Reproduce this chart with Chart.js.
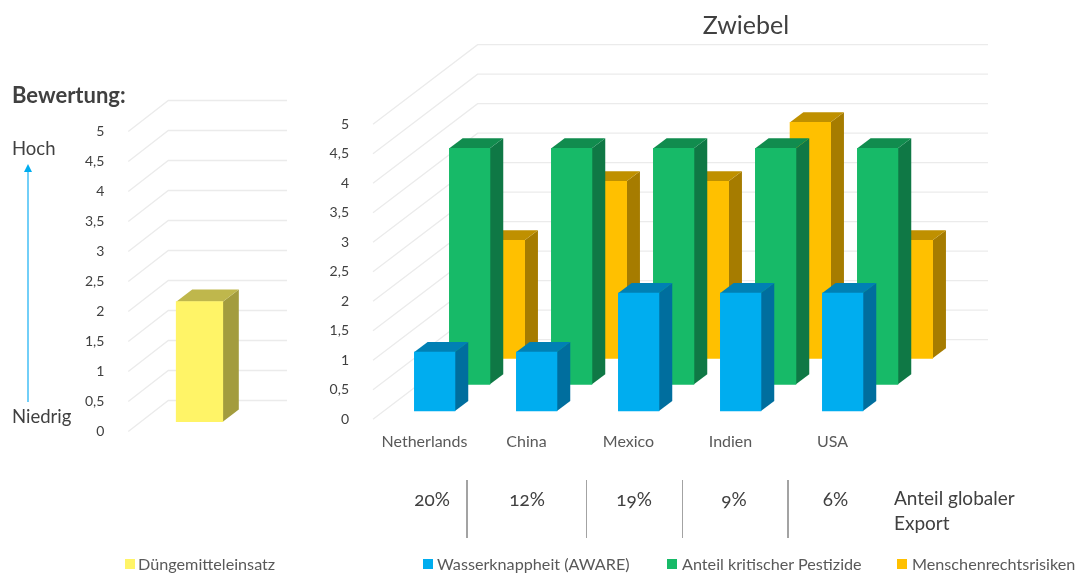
<!DOCTYPE html>
<html lang="de">
<head>
<meta charset="utf-8">
<title>Zwiebel</title>
<script src="https://cdn.jsdelivr.net/npm/chart.js@4"></script>
<style>
  html,body{margin:0;padding:0;background:#fff;width:1080px;height:573px;overflow:hidden;font-family:Lato,"Open Sans",sans-serif;color:#404040;}
  #stage{position:relative;width:1080px;height:573px;overflow:hidden;}
  canvas{position:absolute;top:0;}
  .t{position:absolute;white-space:nowrap;transform:translateY(-50%);font-variant-numeric:oldstyle-nums;}
  .c{transform:translate(-50%,-50%);}
  .sq{position:absolute;width:10px;height:10px;}
  .sep{position:absolute;width:1.5px;background:#a3a3a3;top:480px;height:58px;}
  svg{position:absolute;left:0;top:0;}
</style>
</head>
<body>
<div id="stage">
  <canvas id="left" width="320" height="573" style="left:0"></canvas>
  <canvas id="right" width="760" height="573" style="left:320px"></canvas>
</div>
<script>
// ---------- data ----------
const countries = ["Netherlands","China","Mexico","Indien","USA"];
const wasser = [1,1,2,2,2];
const pestizide = [4,4,4,4,4];
const menschenrechte = [2,3,3,4,2];
const duenger = [2];
const exportShare = ["20%","12%","19%","9%","6%"];
const yTicks = [0,0.5,1,1.5,2,2.5,3,3.5,4,4.5,5];
const seriesNames = {wasser:"Wasserknappheit (AWARE)",pestizide:"Anteil kritischer Pestizide",menschenrechte:"Menschenrechtsrisiken",duenger:"Düngemitteleinsatz"};
const chartTitle = "Zwiebel";
const ratingTitle = "Bewertung:";
const ratingHigh = "Hoch";
const ratingLow = "Niedrig";
const exportCaption = ["Anteil globaler","Export"];

// ---------- styling ----------
const palette = {
  wasser:{front:"#00adef",top:"#0080b4",side:"#006e9e"},
  pestizide:{front:"#17ba68",top:"#118c4e",side:"#0f7845"},
  menschenrechte:{front:"#ffc000",top:"#bf9000",side:"#a67c00"},
  duenger:{front:"#fff467",top:"#bfb74c",side:"#a39c3e"}
};
const tickFont = {family:"Lato",size:14};

const box3d = {
  id:"box3d",
  beforeDatasetsDraw(chart,_a,o){
    const ctx=chart.ctx, ys=chart.scales.y, a=chart.chartArea;
    ctx.save();
    ctx.strokeStyle="#ebebeb";ctx.lineWidth=1.3;
    yTicks.forEach(v=>{
      const y=ys.getPixelForValue(v);
      ctx.beginPath();
      ctx.moveTo(a.left,y);
      ctx.lineTo(a.left+o.wallDx,y-o.wallDy);
      ctx.lineTo(a.right,y-o.wallDy);
      ctx.stroke();
    });
    ctx.restore();
  },
  beforeDatasetDraw(chart,args,o){
    const ctx=chart.ctx, ds=chart.data.datasets[args.index], meta=args.meta;
    ctx.save();
    meta.data.forEach(b=>{
      const l=b.x-b.width/2, r=b.x+b.width/2, t=b.y, bs=b.base, dx=o.dx, dy=o.dy;
      ctx.fillStyle=ds.sideColor;
      ctx.beginPath();ctx.moveTo(r,t);ctx.lineTo(r+dx,t-dy);ctx.lineTo(r+dx,bs-dy);ctx.lineTo(r,bs);ctx.closePath();ctx.fill();
      ctx.fillStyle=ds.topColor;
      ctx.beginPath();ctx.moveTo(l,t);ctx.lineTo(r,t);ctx.lineTo(r+dx,t-dy);ctx.lineTo(l+dx,t-dy);ctx.closePath();ctx.fill();
    });
    ctx.restore();
  }
};

function build(id,cfg){
  const canvasW=document.getElementById(id).width;
  const L=cfg.left-cfg.canvasLeft, R=cfg.right-cfg.canvasLeft;
  const unitY=(cfg.bottom-cfg.top)/5;
  const axisH=cfg.labels.length?50:0;
  const xRange=c=>{const min=(cfg.left-c)/cfg.spacing;return {min,max:min+(cfg.right-cfg.left)/cfg.spacing,offset:false};};
  const scales={
    y:{type:"linear",position:"left",min:0,max:5,
       grid:{display:false},border:{display:false},
       afterFit:s=>{s.width=L;},
       afterBuildTicks:s=>{s.ticks=yTicks.map(v=>({value:v}));},
       ticks:{padding:16,color:"#404040",font:tickFont,callback:v=>String(v).replace(".",",")}},
    x:{type:"linear",position:"bottom",...xRange(cfg.labelCentre),
       display:cfg.labels.length>0,
       grid:{display:false},border:{display:false},
       afterFit:s=>{s.height=axisH;},
       afterBuildTicks:s=>{s.ticks=cfg.labels.map((_,i)=>({value:i}));},
       ticks:{padding:5,color:"#595959",autoSkip:false,maxRotation:0,font:{family:"Lato",size:16},callback:v=>cfg.labels[v]}}
  };
  const datasets=cfg.rows.map((r,k)=>{
    const xid="xr"+k, yid="yr"+k;
    const vmin=(r.base-cfg.bottom)/unitY;
    scales[xid]={type:"linear",display:false,position:"bottom",...xRange(r.centre)};
    scales[yid]={type:"linear",display:false,position:"left",min:vmin,max:vmin+5};
    return {label:r.label,data:r.values.map((v,i)=>({x:i,y:v})),xAxisID:xid,yAxisID:yid,
      backgroundColor:r.colors.front,topColor:r.colors.top,sideColor:r.colors.side,
      barThickness:cfg.barWidth,grouped:false,clip:false,borderWidth:0};
  });
  return new Chart(document.getElementById(id),{
    type:"bar",
    data:{datasets},
    options:{
      responsive:false,animation:false,
      layout:{padding:{left:0,top:cfg.top,right:canvasW-R,bottom:573-cfg.bottom-axisH}},
      scales,
      plugins:{legend:{display:false},tooltip:{enabled:false},title:{display:false},
        box3d:{dx:cfg.dx,dy:cfg.dy,wallDx:cfg.wallDx,wallDy:cfg.wallDy}}
    },
    plugins:[box3d]
  });
}

build("left",{canvasLeft:0,left:128.3,right:287,top:131.5,bottom:431.5,spacing:100,labels:[],labelCentre:200,
  barWidth:46.6,dx:16,dy:12.3,wallDx:40,wallDy:31,
  rows:[{label:seriesNames.duenger,values:duenger,colors:palette.duenger,base:421.7,centre:199.5}]});

// first dataset paints last, so the front row comes first
build("right",{canvasLeft:320,left:373,right:988,top:124.3,bottom:419.3,spacing:102,labels:countries,labelCentre:424.5,
  barWidth:40.6,dx:13.3,dy:10,wallDx:104.6,wallDy:79.6,
  rows:[
    {label:seriesNames.wasser,values:wasser,colors:palette.wasser,base:411,centre:434.65},
    {label:seriesNames.pestizide,values:pestizide,colors:palette.pestizide,base:384.3,centre:469.65},
    {label:seriesNames.menschenrechte,values:menschenrechte,colors:palette.menschenrechte,base:358.3,centre:504.35}
  ]});

// ---------- surrounding text ----------
const stage=document.getElementById("stage");
function text(s,x,y,size,opt={}){
  const d=document.createElement("div");
  d.className="t"+(opt.center?" c":"");
  d.textContent=s;
  d.style.cssText=`left:${x}px;top:${y}px;font-size:${size}px;`+(opt.css||"");
  stage.appendChild(d);
}
function square(x,y,c){
  const d=document.createElement("div");d.className="sq";
  d.style.cssText=`left:${x}px;top:${y}px;background:${c}`;stage.appendChild(d);
}
text(chartTitle,746,24,25,{center:true});
text(ratingTitle,12,94,22,{css:"font-weight:700;"});
text(ratingHigh,12,148,18.5);
text(ratingLow,12,416,18.5);
text(exportCaption[0],894,497,19);
text(exportCaption[1],894,522,19);
[432,527,634,734,835.5].forEach((x,i)=>text(exportShare[i],x,498,19,{center:true}));
[466,585.5,681.5,787].forEach(x=>{const d=document.createElement("div");d.className="sep";d.style.left=x+"px";stage.appendChild(d);});
[[125,138,"duenger"],[423,437,"wasser"],[667,682,"pestizide"],[897,912,"menschenrechte"]].forEach(([sx,tx,k])=>{
  square(sx,559,palette[k].front);
  text(seriesNames[k],tx,563,16.2,{css:"color:#595959;"});
});
const svgNS="http://www.w3.org/2000/svg";
const svg=document.createElementNS(svgNS,"svg");
svg.setAttribute("width","60");svg.setAttribute("height","573");
svg.innerHTML='<line x1="28" y1="402" x2="28" y2="170" stroke="#4fc3f7" stroke-width="1.6"/><path d="M24 172 L28 164 L32 172 Z" fill="#00adef"/>';
stage.appendChild(svg);
</script>
</body>
</html>
